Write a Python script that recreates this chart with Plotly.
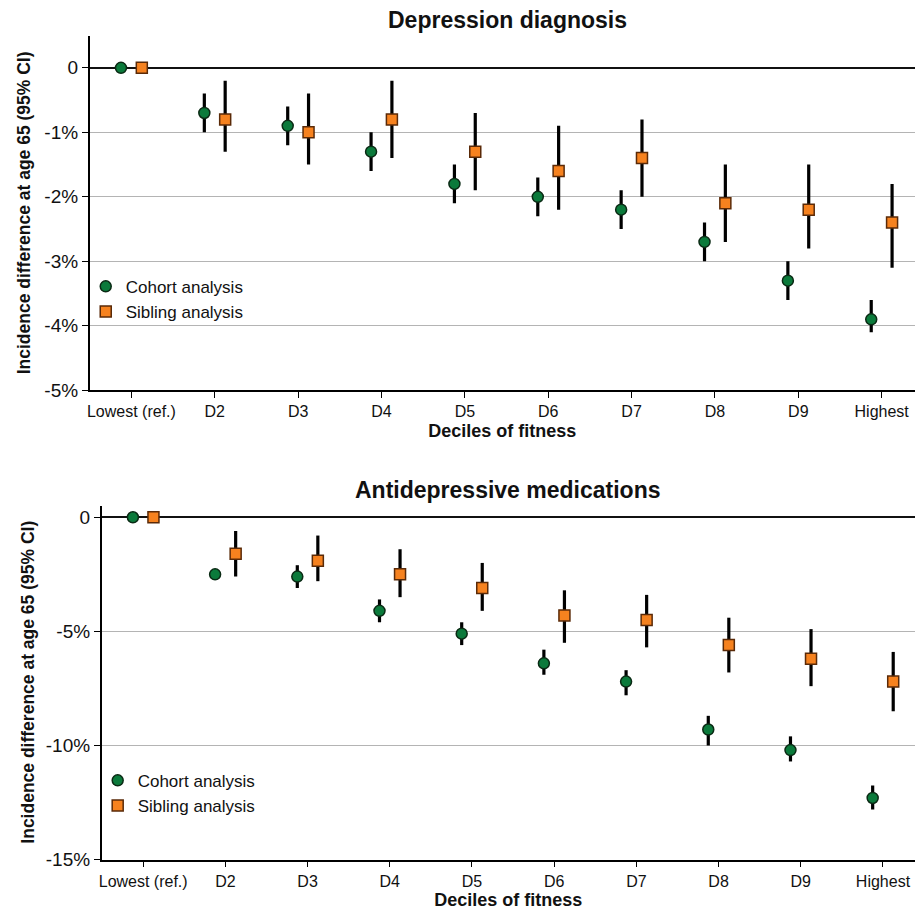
import plotly.graph_objects as go

deciles = ["Lowest (ref.)", "D2", "D3", "D4", "D5", "D6", "D7", "D8", "D9", "Highest"]

# Depression diagnosis (%)
dep_cohort = [0, -0.7, -0.9, -1.3, -1.8, -2.0, -2.2, -2.7, -3.3, -3.9]
dep_cohort_lo = [0, -1.0, -1.2, -1.6, -2.1, -2.3, -2.5, -3.0, -3.6, -4.1]
dep_cohort_hi = [0, -0.4, -0.6, -1.0, -1.5, -1.7, -1.9, -2.4, -3.0, -3.6]
dep_sib = [0, -0.8, -1.0, -0.8, -1.3, -1.6, -1.4, -2.1, -2.2, -2.4]
dep_sib_lo = [0, -1.3, -1.5, -1.4, -1.9, -2.2, -2.0, -2.7, -2.8, -3.1]
dep_sib_hi = [0, -0.2, -0.4, -0.2, -0.7, -0.9, -0.8, -1.5, -1.5, -1.8]

# Antidepressive medications (%)
med_cohort = [0, -2.5, -2.6, -4.1, -5.1, -6.4, -7.2, -9.3, -10.2, -12.3]
med_cohort_lo = [0, -2.6, -3.1, -4.6, -5.6, -6.9, -7.8, -10.0, -10.7, -12.8]
med_cohort_hi = [0, -2.4, -2.1, -3.6, -4.6, -5.8, -6.7, -8.7, -9.6, -11.75]
med_sib = [0, -1.6, -1.9, -2.5, -3.1, -4.3, -4.5, -5.6, -6.2, -7.2]
med_sib_lo = [0, -2.6, -2.8, -3.5, -4.1, -5.5, -5.7, -6.8, -7.4, -8.5]
med_sib_hi = [0, -0.6, -0.8, -1.4, -2.0, -3.2, -3.4, -4.4, -4.9, -5.9]

series_names = ["Cohort analysis", "Sibling analysis"]
GREEN = "#0b7a3b"
ORANGE = "#f6821f"
OFFSET = 0.125

W, H = 915, 920


def px(X):
    return X / W


def py(Y):
    return 1 - Y / H


fig = go.Figure()


def add_panel(xa, ya, leg, c, clo, chi, s, slo, shi):
    idx = list(range(len(deciles)))
    for name, vals, lo, hi, off, col, sym, lcol in [
        (series_names[0], c, clo, chi, -OFFSET, GREEN, "circle", "#0a2a14"),
        (series_names[1], s, slo, shi, OFFSET, ORANGE, "square", "#5a2a08"),
    ]:
        fig.add_trace(go.Scatter(
            x=[i + off for i in idx], y=vals, mode="markers", name=name,
            xaxis=xa, yaxis=ya, legend=leg,
            marker=dict(symbol=sym, size=11, color=col, line=dict(color=lcol, width=1.5)),
            error_y=dict(type="data", symmetric=False,
                         array=[h - v for h, v in zip(hi, vals)],
                         arrayminus=[v - l for v, l in zip(vals, lo)],
                         color="black", thickness=3.2, width=0),
        ))


add_panel("x", "y", "legend", dep_cohort, dep_cohort_lo, dep_cohort_hi, dep_sib, dep_sib_lo, dep_sib_hi)
add_panel("x2", "y2", "legend2", med_cohort, med_cohort_lo, med_cohort_hi, med_sib, med_sib_lo, med_sib_hi)

FONT = "Liberation Sans, Arial, sans-serif"

xcommon = dict(
    tickmode="array", tickvals=list(range(len(deciles))), ticktext=deciles,
    ticks="outside", ticklen=6, tickcolor="black", tickwidth=1.2,
    showline=True, linecolor="black", linewidth=1.5, showgrid=False, zeroline=False,
    tickfont=dict(size=16, color="#111", family=FONT), ticklabeloverflow="allow",
    title=dict(text="<b>Deciles of fitness</b>", font=dict(size=18, color="#111", family=FONT), standoff=5),
    fixedrange=True,
)
ycommon = dict(
    ticks="outside", ticklen=6, tickcolor="black", tickwidth=1.2,
    showline=True, linecolor="black", linewidth=1.5,
    showgrid=True, gridcolor="#b4b4b4", gridwidth=1.2,
    zeroline=True, zerolinecolor="#111", zerolinewidth=1.5,
    tickfont=dict(size=19, color="#111", family=FONT),
    fixedrange=True,
)

fig.update_layout(
    width=W, height=H, margin=dict(l=0, r=0, t=0, b=0),
    paper_bgcolor="white", plot_bgcolor="white",
    font=dict(family=FONT, color="#111"),
    xaxis=dict(domain=[px(87), 1.0], range=[-0.5, 9.4], anchor="y", **xcommon),
    yaxis=dict(domain=[py(395), py(36)], range=[-5, 0.5], anchor="x",
               tickvals=[0, -1, -2, -3, -4, -5], ticktext=["0", "-1%", "-2%", "-3%", "-4%", "-5%"], **ycommon),
    xaxis2=dict(domain=[px(99), 1.0], range=[-0.505, 9.39], anchor="y2", **xcommon),
    yaxis2=dict(domain=[py(870), py(512)], range=[-15, 0.5], anchor="x2",
                tickvals=[0, -5, -10, -15], ticktext=["0", "-5%", "-10%", "-15%"], **ycommon),
    legend=dict(x=px(83), y=py(272), xanchor="left", yanchor="top", bgcolor="rgba(0,0,0,0)",
                font=dict(size=17, color="#111", family=FONT), tracegroupgap=0, itemsizing="trace"),
    legend2=dict(x=px(95), y=py(772), xanchor="left", yanchor="top", bgcolor="rgba(0,0,0,0)",
                 font=dict(size=17, color="#111", family=FONT), tracegroupgap=0, itemsizing="trace"),
    annotations=[
        dict(text="<b>Depression diagnosis</b>", x=px(506), y=py(20), xref="paper", yref="paper",
             xanchor="center", yanchor="middle",
             showarrow=False, font=dict(size=23, color="#111", family=FONT)),
        dict(text="<b>Antidepressive medications</b>", x=px(507), y=py(496), xref="paper", yref="paper",
             xanchor="center", yanchor="middle",
             showarrow=False, font=dict(size=23, color="#111", family=FONT)),
        dict(text="<b>Incidence difference at age 65 (95% CI)</b>", x=px(21), y=py(215),
             xref="paper", yref="paper", textangle=-90, showarrow=False,
             xanchor="center", yanchor="middle",
             font=dict(size=17.5, color="#111", family=FONT)),
        dict(text="<b>Incidence difference at age 65 (95% CI)</b>", x=px(25), y=py(690),
             xref="paper", yref="paper", textangle=-90, showarrow=False,
             xanchor="center", yanchor="middle",
             font=dict(size=17.5, color="#111", family=FONT)),
    ],
)

fig.write_html(
    "out.html",
    config={"displayModeBar": False},
    post_script="document.body.style.margin='0';document.body.style.overflow='hidden';",
)
